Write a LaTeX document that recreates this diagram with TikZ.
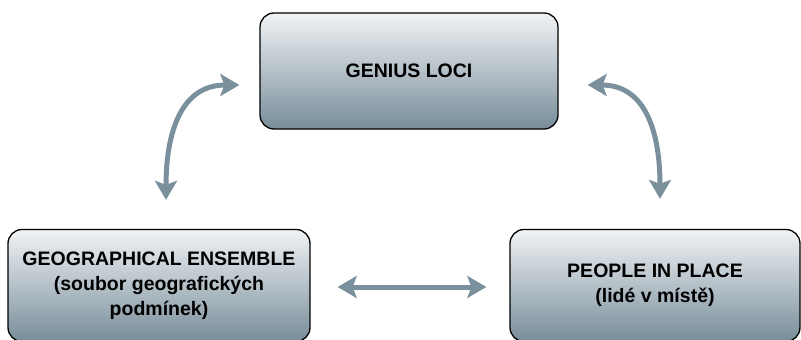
\documentclass[tikz,border=0pt]{standalone}
\usepackage{fontspec}
\setmainfont{Liberation Sans}
\usetikzlibrary{positioning,arrows.meta}

\definecolor{boxtop}{RGB}{241,243,245}
\definecolor{boxbot}{RGB}{120,141,154}
\definecolor{linkgrey}{RGB}{122,145,157}

\begin{document}
\begin{tikzpicture}[x=1pt,y=-1pt,
  every node/.style={align=center,font=\fontsize{19.5}{25}\selectfont\bfseries},
  idea/.style={draw=black,line width=1.3pt,rounded corners=14pt,top color=boxtop,bottom color=boxbot,inner sep=0pt},
  link/.style={draw=linkgrey,line width=5pt,{Stealth[length=19pt,width=22pt,inset=4pt]}-{Stealth[length=19pt,width=22pt,inset=4pt]}}]

\useasboundingbox (0,0) rectangle (801,340);
\clip (0,0) rectangle (801,340);

\node [idea, minimum width=298pt, minimum height=116pt] (genius) at (409,71) {GENIUS LOCI};
\node [idea, minimum width=302pt, minimum height=112pt] (geo) at (159,285.5) {GEOGRAPHICAL ENSEMBLE\\(soubor geografických\\podmínek)};
\node [idea, minimum width=290pt, minimum height=112pt] (people) at (655,285.5) {PEOPLE IN PLACE\\(lidé v místě)};

% arrow ends
\coordinate [above=29pt of geo.north, xshift=7pt] (g1);
\coordinate [left=20pt of genius.west, yshift=-14pt] (g2);
\coordinate [right=29pt of genius.east, yshift=-14pt] (p2);
\coordinate [above=30pt of people.north, xshift=5pt] (p1);
\coordinate [right=27pt of geo.east, yshift=-1.5pt] (h1);
\coordinate [left=23pt of people.west, yshift=-1.5pt] (h2);

\draw[link] (g1) to[out=90,in=180,looseness=1.15] (g2);
\draw[link] (p1) to[out=90,in=0,looseness=1.15] (p2);
\draw[link] (h1) -- (h2);

\end{tikzpicture}
\end{document}
